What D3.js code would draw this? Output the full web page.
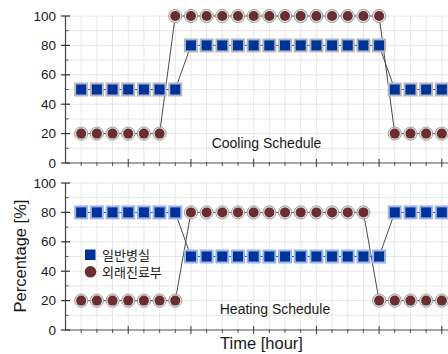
<!DOCTYPE html>
<html>
<head>
<meta charset="utf-8">
<script src="https://cdn.jsdelivr.net/npm/d3@7"></script>
<style>
  html, body { margin: 0; padding: 0; background: #fff; }
  svg { display: block; }
  text { font-family: "Liberation Sans", Arial, sans-serif; fill: #1a1a1a; }
  .kr { font-family: "Noto Sans CJK KR", "Liberation Sans", sans-serif; }
</style>
</head>
<body>
<svg id="chart" width="448" height="354"></svg>
<script>
// Hourly occupancy schedules (percentage) for two zones
const hours = [1, 2, 3, 4, 5, 6, 7, 8, 9, 10, 11, 12, 13, 14, 15, 16, 17, 18, 19, 20, 21, 22, 23, 24];
const coolingWard       = [50, 50, 50, 50, 50, 50, 50, 80, 80, 80, 80, 80, 80, 80, 80, 80, 80, 80, 80, 80, 50, 50, 50, 50];
const coolingOutpatient = [20, 20, 20, 20, 20, 20, 100, 100, 100, 100, 100, 100, 100, 100, 100, 100, 100, 100, 100, 100, 20, 20, 20, 20];
const heatingWard       = [80, 80, 80, 80, 80, 80, 80, 50, 50, 50, 50, 50, 50, 50, 50, 50, 50, 50, 50, 50, 80, 80, 80, 80];
const heatingOutpatient = [20, 20, 20, 20, 20, 20, 20, 80, 80, 80, 80, 80, 80, 80, 80, 80, 80, 80, 80, 20, 20, 20, 20, 20];
const yTicks = [0, 20, 40, 60, 80, 100];
const seriesNames = ["일반병실", "외래진료부"];
const panelTitles = ["Cooling Schedule", "Heating Schedule"];

const svg = d3.select("#chart");
const W = 448;

const x = d3.scaleLinear().domain([0, 25]).range([65.5, 65.5 + 25 * 15.68]);
const majorHours = hours.filter(h => h % 4 === 0);
const minorY = d3.range(10, 101, 10);

const panels = [
  { y: d3.scaleLinear().domain([0, 100]).range([163, 16]), ward: coolingWard, out: coolingOutpatient,
    title: panelTitles[0], tx: 266.5, ty: 148, sqStroke: "#b3b6c4" },
  { y: d3.scaleLinear().domain([0, 100]).range([330, 183]), ward: heatingWard, out: heatingOutpatient,
    title: panelTitles[1], tx: 275, ty: 314, sqStroke: "#9db5ea" }
];

panels.forEach(p => {
  const g = svg.append("g");
  const y = p.y;
  const [y0, y1] = y.range();

  // grid
  g.selectAll(".vg").data(hours).join("line")
    .attr("x1", d => x(d)).attr("x2", d => x(d))
    .attr("y1", y0).attr("y2", y1)
    .attr("stroke", "#e6e6e6").attr("stroke-width", 1);
  g.selectAll(".hg").data(minorY).join("line")
    .attr("x1", x(0)).attr("x2", W)
    .attr("y1", d => y(d)).attr("y2", d => y(d))
    .attr("stroke", "#e6e6e6").attr("stroke-width", 1);

  // x axis line and ticks
  g.append("line").attr("x1", x(0)).attr("x2", W).attr("y1", y0).attr("y2", y0)
    .attr("stroke", "#8a8a8a").attr("stroke-width", 1.6);
  g.selectAll(".xt").data(hours).join("line")
    .attr("x1", d => x(d)).attr("x2", d => x(d))
    .attr("y1", d => majorHours.includes(d) ? y0 - 4 : y0 - 1)
    .attr("y2", d => majorHours.includes(d) ? y0 + 4 : y0 + 3)
    .attr("stroke", d => majorHours.includes(d) ? "#333" : "#555").attr("stroke-width", 1);

  // y axis line and ticks
  g.append("line").attr("x1", x(0)).attr("x2", x(0)).attr("y1", y0).attr("y2", y1)
    .attr("stroke", "#444").attr("stroke-width", 1.2);
  g.selectAll(".ymt").data(minorY.filter(v => v % 20 !== 0)).join("line")
    .attr("x1", x(0)).attr("x2", x(0) + 3)
    .attr("y1", d => y(d)).attr("y2", d => y(d))
    .attr("stroke", "#555").attr("stroke-width", 1);
  g.selectAll(".yt").data(yTicks).join("line")
    .attr("x1", x(0) - 4.5).attr("x2", x(0) + 4.5)
    .attr("y1", d => y(d)).attr("y2", d => y(d))
    .attr("stroke", "#333").attr("stroke-width", 1.2);
  g.selectAll(".yl").data(yTicks).join("text")
    .attr("x", 56).attr("y", d => y(d) + 4.6)
    .attr("text-anchor", "end").attr("font-size", 13.5)
    .text(d => d);

  // connecting lines
  const line = d3.line().x((d, i) => x(hours[i])).y(d => y(d));
  [p.out, p.ward].forEach(vals => {
    g.append("path").datum(vals).attr("d", line)
      .attr("fill", "none").attr("stroke", "#4a4a4a").attr("stroke-width", 1);
  });

  // outpatient markers (circles)
  const cg = g.selectAll(".c").data(p.out).join("g")
    .attr("transform", (d, i) => `translate(${x(hours[i])},${y(d)})`);
  cg.append("circle").attr("r", 6.6).attr("fill", "#e2e2e2").attr("stroke", "#a0a0a0").attr("stroke-width", 1);
  cg.append("circle").attr("r", 5).attr("fill", "#6b2d2f");

  // ward markers (squares)
  const sg = g.selectAll(".s").data(p.ward).join("g")
    .attr("transform", (d, i) => `translate(${x(hours[i])},${y(d)})`);
  sg.append("rect").attr("x", -6).attr("y", -6).attr("width", 12).attr("height", 12)
    .attr("fill", "#003399").attr("stroke", p.sqStroke).attr("stroke-width", 2);

  // panel title
  g.append("text").attr("x", p.tx).attr("y", p.ty).attr("text-anchor", "middle")
    .attr("font-size", 14).text(p.title);
});

// legend
const lg = svg.append("g");
lg.append("rect").attr("x", 85).attr("y", 249.5).attr("width", 10.5).attr("height", 10.5).attr("fill", "#003399");
lg.append("circle").attr("cx", 90.5).attr("cy", 271.8).attr("r", 5.8).attr("fill", "#6b2d2f");
lg.append("text").attr("class", "kr").attr("x", 102).attr("y", 259.5).attr("font-size", 13).text(seriesNames[0]);
lg.append("text").attr("class", "kr").attr("x", 102).attr("y", 277).attr("font-size", 13).text(seriesNames[1]);

// axis titles
svg.append("text").attr("transform", "translate(26,256) rotate(-90)")
  .attr("text-anchor", "middle").attr("font-size", 16.5).text("Percentage [%]");
svg.append("text").attr("x", 261.5).attr("y", 349).attr("text-anchor", "middle")
  .attr("font-size", 16.5).text("Time [hour]");
</script>
</body>
</html>
